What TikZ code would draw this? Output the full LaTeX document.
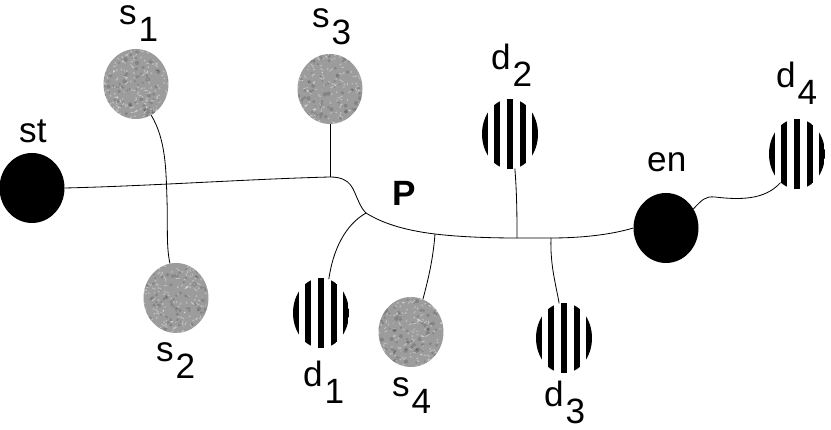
\documentclass[tikz,border=0pt]{standalone}
\usepackage{fontspec}
\setmainfont{Liberation Sans}
\usetikzlibrary{shapes.geometric,calc}
\newcommand{\lbl}[2]{#1\kern1.5pt\raisebox{-14.5pt}{#2}}
\tikzset{
  hole/.style={ellipse, fill=black, inner sep=0pt, minimum width=1.95cm, minimum height=2.1cm},
  rock/.style={ellipse, fill=gray!78, inner sep=0pt, minimum width=1.95cm, minimum height=2.1cm,
    path picture={\foreach \k in {1,...,90}{
      \fill [black, opacity=0.15] ($(path picture bounding box.center)+(rand*33,rand*36)$) circle (1.6+0.6*rand);
      \draw [white, opacity=0.5, line width=0.5pt] ($(path picture bounding box.center)+(rand*33,rand*36)$) -- ++(rand*4,rand*3);
      \fill [white, opacity=0.3] ($(path picture bounding box.center)+(rand*33,rand*36)$) circle (1.1);}}},
  stripes/.style={ellipse, inner sep=0pt, minimum width=1.68cm, minimum height=2.1cm,
    path picture={\foreach \i in {-2,...,2}{
      \fill [black] ($(path picture bounding box.center)+(\i*12.7-3,-40)$) rectangle +(6,80);}}},
  wire/.style={black, line width=0.7pt},
  tag/.style={anchor=base west, inner sep=0pt, font=\fontsize{30}{31}\selectfont}
}
\begin{document}
\begin{tikzpicture}[x=0.03cm, y=-0.03cm]
                \pgfmathsetseed{7}
                \useasboundingbox (0,0) rectangle (831,430);
                \node [hole] (st) at (32,188) {};
                \node [rock] (s1) at (136,84) {};
                \node [rock] (s3) at (330,89) {};
                \node [rock] (s2) at (176,298) {};
                \node [rock] (s4) at (411,332) {};
                \node [stripes] (d1) at (321,313) {};
                \node [stripes] (d2) at (510,134) {};
                \node [stripes] (d3) at (564,338) {};
                \node [stripes] (d4) at (797,154) {};
                \node [hole] (en) at (666,228) {};
                \coordinate (j3) at (330,177);
                \coordinate (jP) at (366,213);
                \coordinate (j4) at (435,234);
                \coordinate (j2) at (517,238);
                \coordinate (j5) at (551,238);
                \draw [wire] (st.east) .. controls (150,186) and (250,179) .. (j3)
                  .. controls (352,177) and (353,190) .. (358,200)
                  .. controls (361,207) and (363,210) .. (jP)
                  .. controls (385,225) and (410,231) .. (j4)
                  .. controls (460,237) and (490,238) .. (j2) -- (j5)
                  .. controls (580,238) and (610,235) .. (en.west);
                \draw [wire] (s3.south) -- (j3);
                \draw [wire] (jP) .. controls (345,225) and (333,250) .. (d1.77);
                \draw [wire] (j4) .. controls (433,260) and (428,280) .. (s4.70);
                \draw [wire] (j5) .. controls (550,265) and (556,285) .. (d3.98);
                \draw [wire] (d2.-82) .. controls (517,195) and (517,220) .. (j2);
                \draw [wire] (s1.-64) .. controls (166,140) and (166,170) .. (167,200)
                  .. controls (168,225) and (166,245) .. (s2.100);
                \draw [wire] (en.35) .. controls (702,200) and (705,196) .. (715,197)
                  .. controls (740,200) and (765,200) .. (d4.-120);
                \node [tag] (lst) at (19,143) {st};
                \node [tag] (ls1) at (119,25) {\lbl{s}{1}};
                \node [tag] (ls3) at (312,28) {\lbl{s}{3}};
                \node [tag] (ls2) at (156,362) {\lbl{s}{2}};
                \node [tag] (ld1) at (303,387) {\lbl{d}{1}};
                \node [tag] (ls4) at (392,397) {\lbl{s}{4}};
                \node [tag] (ld3) at (544,407) {\lbl{d}{3}};
                \node [tag] (ld2) at (491,70) {\lbl{d}{2}};
                \node [tag] (ld4) at (776,88) {\lbl{d}{4}};
                \node [tag] (len) at (647,172) {en};
                \node [tag, font=\fontsize{30}{31}\selectfont\bfseries] (lP) at (392,206) {P};
\end{tikzpicture}
\end{document}
